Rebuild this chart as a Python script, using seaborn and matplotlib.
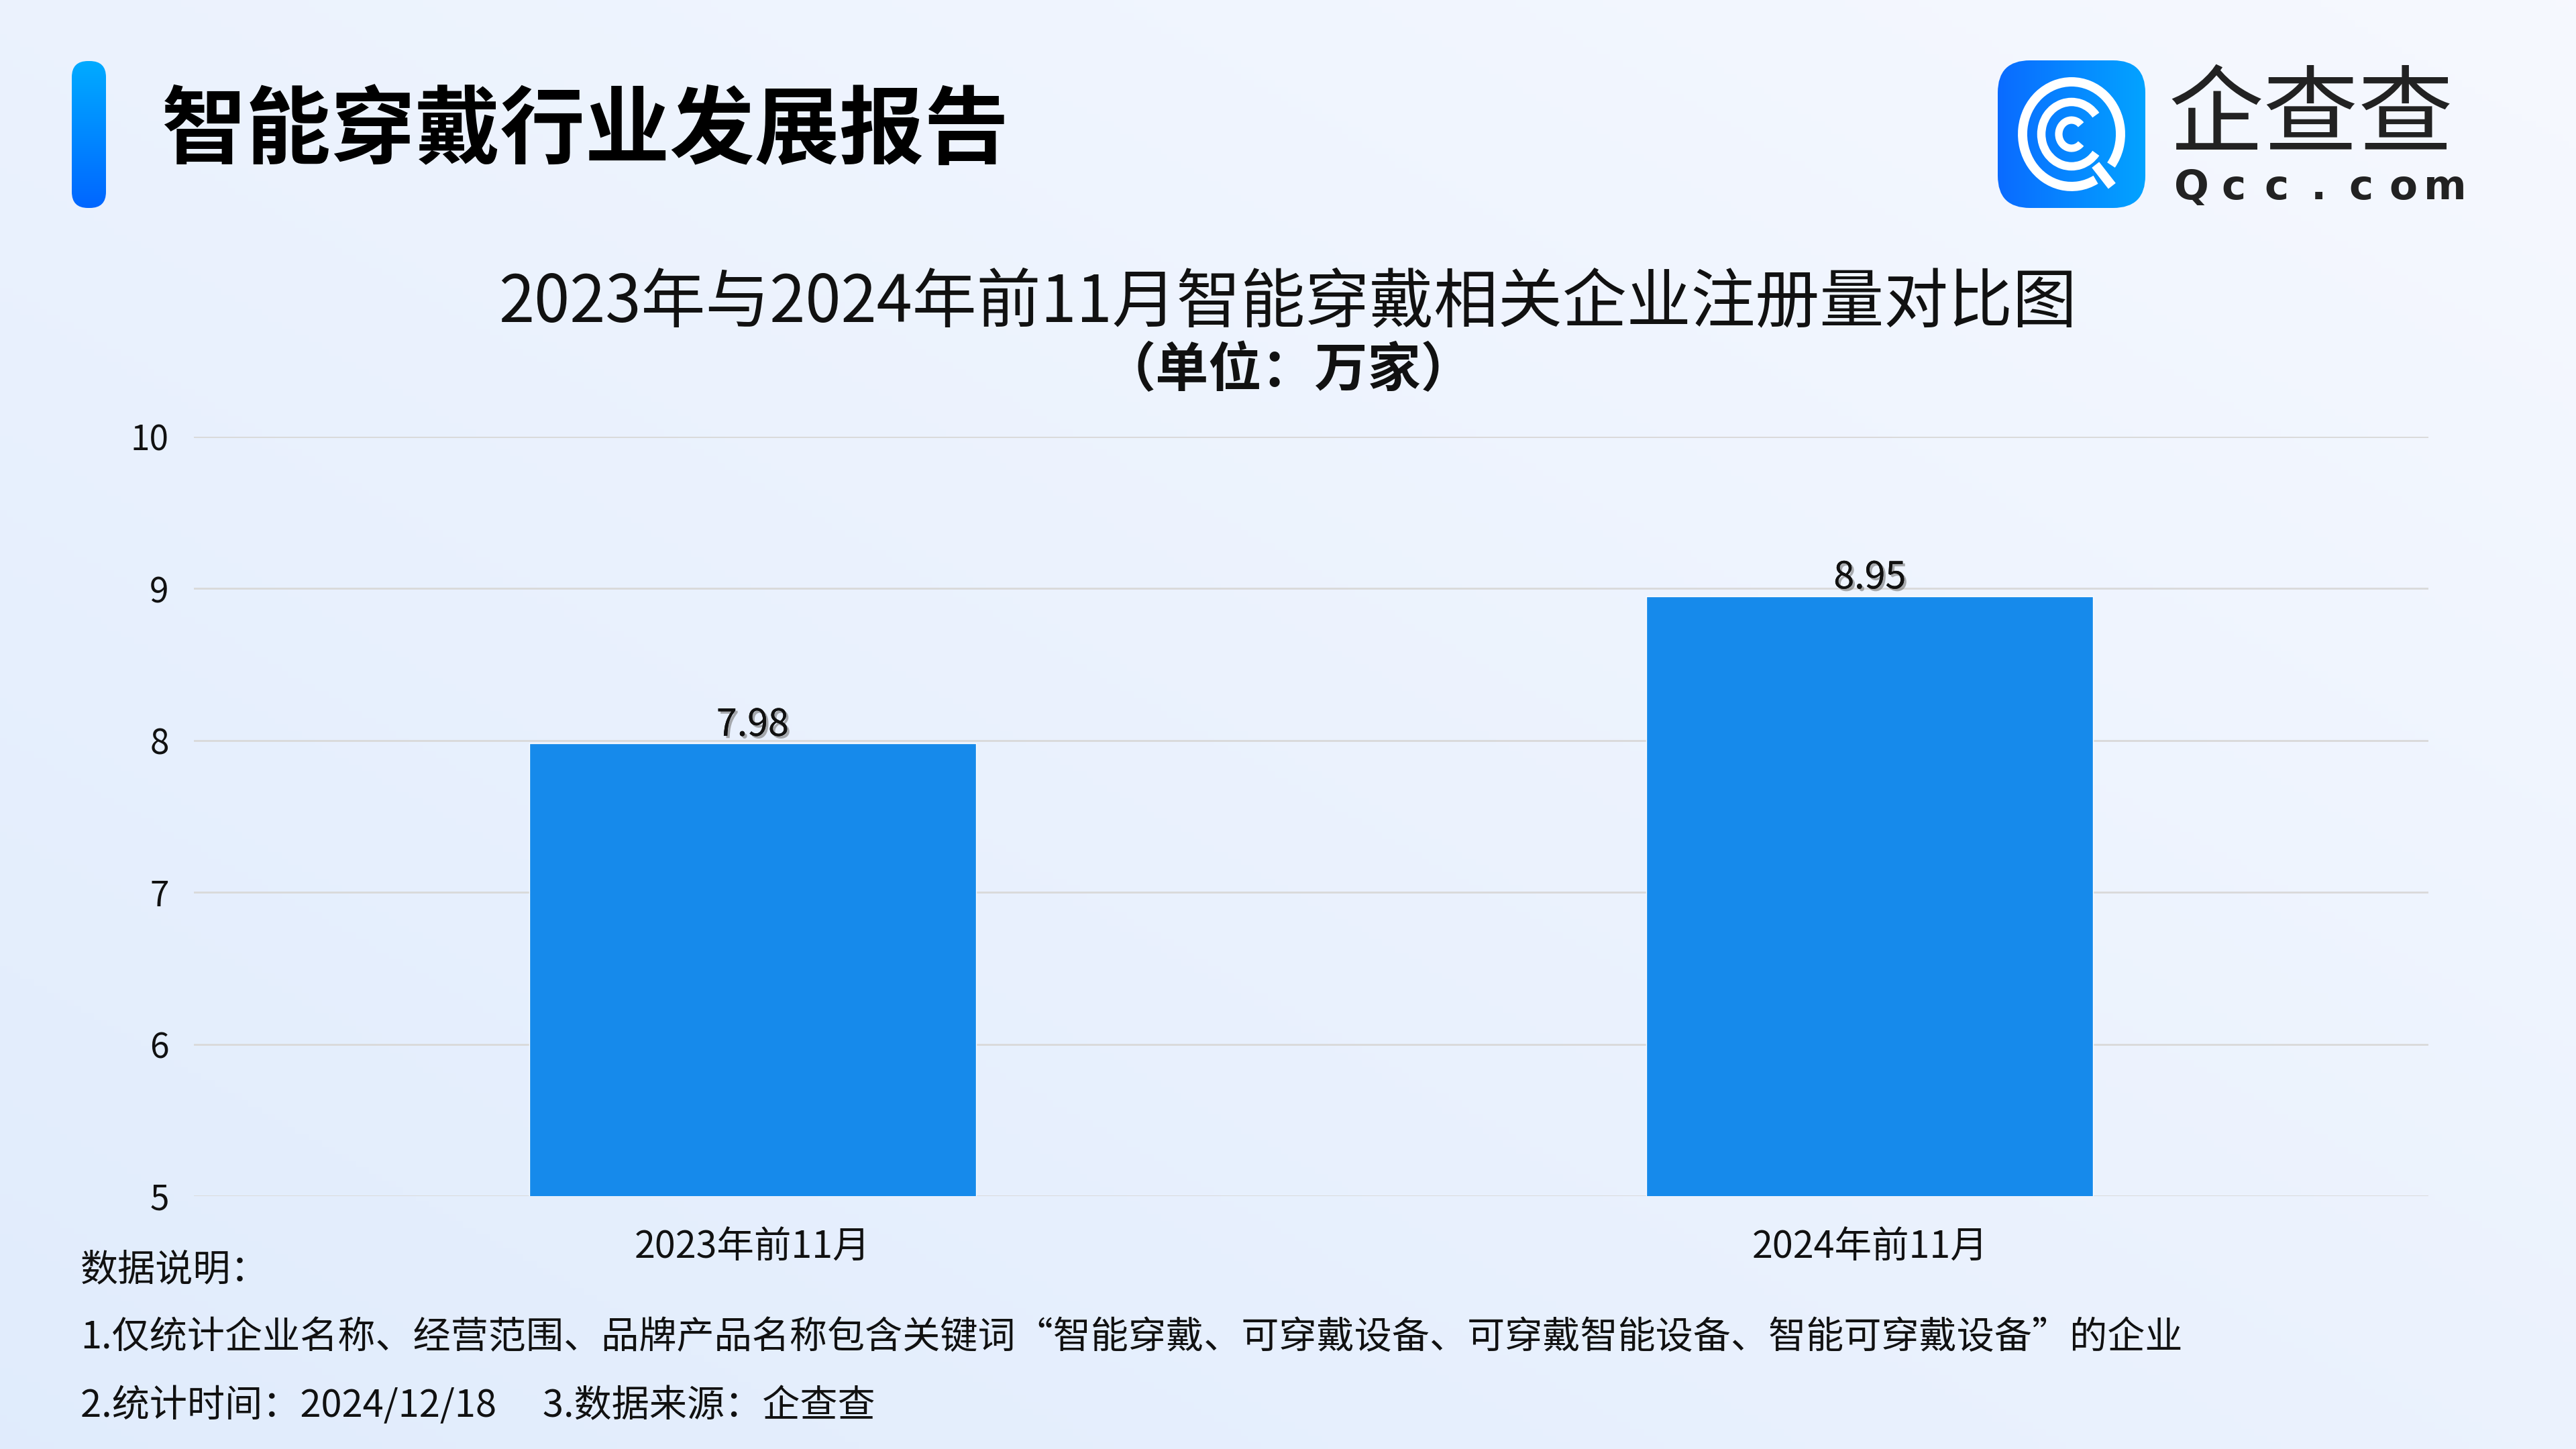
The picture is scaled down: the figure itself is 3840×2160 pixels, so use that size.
import numpy as np
import matplotlib
matplotlib.use("Agg")
import matplotlib.pyplot as plt
import matplotlib.patheffects as pe
from matplotlib.patches import FancyBboxPatch, Arc
import seaborn as sns
import pandas as pd

# data
categories = ["2023年前11月", "2024年前11月"]
values = [7.98, 8.95]
y_ticks = [5, 6, 7, 8, 9, 10]

header = "智能穿戴行业发展报告"
title = "2023年与2024年前11月智能穿戴相关企业注册量对比图"
subtitle = "（单位：万家）"
notes = [
    "数据说明：",
    "1.仅统计企业名称、经营范围、品牌产品名称包含关键词“智能穿戴、可穿戴设备、可穿戴智能设备、智能可穿戴设备”的企业",
    "2.统计时间：2024/12/18\u3000 3.数据来源：企查查",
]
logo_cn = "企查查"
logo_en = list("Qcc.com")

sns.set_theme(style="white")
plt.rcParams['font.family'] = ['Noto Sans CJK SC', 'DejaVu Sans']

fig = plt.figure(figsize=(38.4, 21.6), dpi=100)

# =========================
# background gradient
# =========================
bg = fig.add_axes([0, 0, 1, 1], zorder=-10)
h, w = 216, 384
rows, cols = np.mgrid[0:1:h * 1j, 0:1:w * 1j]
t = np.clip((cols + (1 - rows)) / 2, 0, 1)[..., None]
c_blue = np.array([0.88, 0.925, 0.99])
c_white = np.array([0.965, 0.975, 1.0])
img = c_blue * (1 - t) + c_white * t
bg.imshow(img, aspect="auto", extent=(0, 1, 0, 1))
bg.axis("off")

# =========================
# bar chart
# =========================
ax = fig.add_axes([0.0753, 0.1745, 0.8674, 0.5241])
df = pd.DataFrame({"period": categories, "count": values})
sns.barplot(data=df, x="period", y="count", color="#168AEB", saturation=1,
            width=0.4, ax=ax, zorder=3)
ax.set_ylim(5, 10)
ax.set_yticks(y_ticks)
ax.set_xlim(-0.5, 1.5)
ax.patch.set_alpha(0)
ax.yaxis.grid(True, color="#D9D9D9", lw=2)
ax.xaxis.grid(False)
ax.set_axisbelow(True)
for s in ax.spines.values():
    s.set_visible(False)
ax.set_xlabel("")
ax.set_ylabel("")
ax.tick_params(axis="y", labelsize=37, pad=27, length=0, labelcolor="#111111")
ax.tick_params(axis="x", labelsize=40, pad=35, length=0, labelcolor="#111111")

shadow = [pe.withSimplePatchShadow(offset=(2.5, -2.5), shadow_rgbFace="#777777", alpha=0.6),
          pe.Normal()]
for c in ax.containers:
    ax.bar_label(c, fmt="%.2f", fontsize=40, padding=-1, color="#111111",
                 path_effects=shadow)

# =========================
# header
# =========================
hb = fig.add_axes([107 / 3840, 1 - 310 / 2160, 51 / 3840, 219 / 2160])
hb.set_xlim(0, 51)
hb.set_ylim(0, 219)
hb.axis("off")
pill = FancyBboxPatch((0, 0), 51, 219, boxstyle="round,pad=0,rounding_size=24",
                      fc="none", ec="none")
hb.add_patch(pill)
grad = np.linspace(0, 1, 100)[:, None, None]
top_c = np.array([0.0, 0.67, 1.0])
bot_c = np.array([0.0, 0.40, 1.0])
g_img = top_c * (1 - grad) + bot_c * grad
g_img = np.repeat(g_img, 2, axis=1)
im = hb.imshow(g_img, extent=(0, 51, 0, 219), aspect="auto")
im.set_clip_path(pill)

fig.text(240 / 3840, 1 - 198 / 2160, header, fontsize=91, fontweight="heavy",
         color="#000000", ha="left", va="center")

fig.text(0.5, 1 - 452 / 2160, title, fontsize=69, fontweight="medium",
         color="#111111", ha="center", va="center")
fig.text(0.5, 1 - 553 / 2160, subtitle, fontsize=57, fontweight="bold",
         color="#111111", ha="center", va="center")

# =========================
# logo
# =========================
lg = fig.add_axes([2978 / 3840, 1 - 310 / 2160, 220 / 3840, 220 / 2160])
lg.set_xlim(0, 220)
lg.set_ylim(0, 220)
lg.axis("off")
sq = FancyBboxPatch((0, 0), 220, 220, boxstyle="round,pad=0,rounding_size=48",
                    fc="none", ec="none")
lg.add_patch(sq)
hgrad = np.linspace(0, 1, 100)[None, :, None]
left_c = np.array([0.04, 0.42, 1.0])
right_c = np.array([0.01, 0.64, 1.0])
l_img = left_c * (1 - hgrad) + right_c * hgrad
l_img = np.repeat(l_img, 2, axis=0)
im2 = lg.imshow(l_img, extent=(0, 220, 0, 220), aspect="auto")
im2.set_clip_path(sq)
cx, cy = 110, 110
lg.add_patch(Arc((cx, cy), 146, 156, theta1=-38, theta2=298, lw=10, color="white",
                 capstyle="butt"))
lg.add_patch(Arc((cx, cy), 90, 96, theta1=38, theta2=322, lw=9, color="white",
                 capstyle="butt"))
lg.add_patch(Arc((cx, cy), 38, 42, theta1=45, theta2=315, lw=8, color="white",
                 capstyle="butt"))
ang = np.deg2rad(-52)
lg.plot([cx + 58 * np.cos(ang), cx + 98 * np.cos(ang)],
        [cy + 58 * np.sin(ang), cy + 98 * np.sin(ang)],
        color="white", lw=10, solid_capstyle="butt")

fig.text(3232 / 3840, 1 - 216 / 2160, logo_cn, fontsize=102, color="#222222",
         ha="left", va="baseline")
for ch, xp in zip(logo_en, np.linspace(3267, 3645, len(logo_en))):
    fig.text(xp / 3840, 1 - 297 / 2160, ch, fontsize=44, fontweight="bold",
             color="#222222", ha="center", va="baseline", family=["DejaVu Sans"])

# =========================
# footer notes
# =========================
for line, yp in zip(notes, [1893, 1994, 2096]):
    fig.text(120 / 3840, 1 - yp / 2160, line, fontsize=40.4, color="#111111",
             ha="left", va="center")

fig.savefig("out.png", dpi=100)
